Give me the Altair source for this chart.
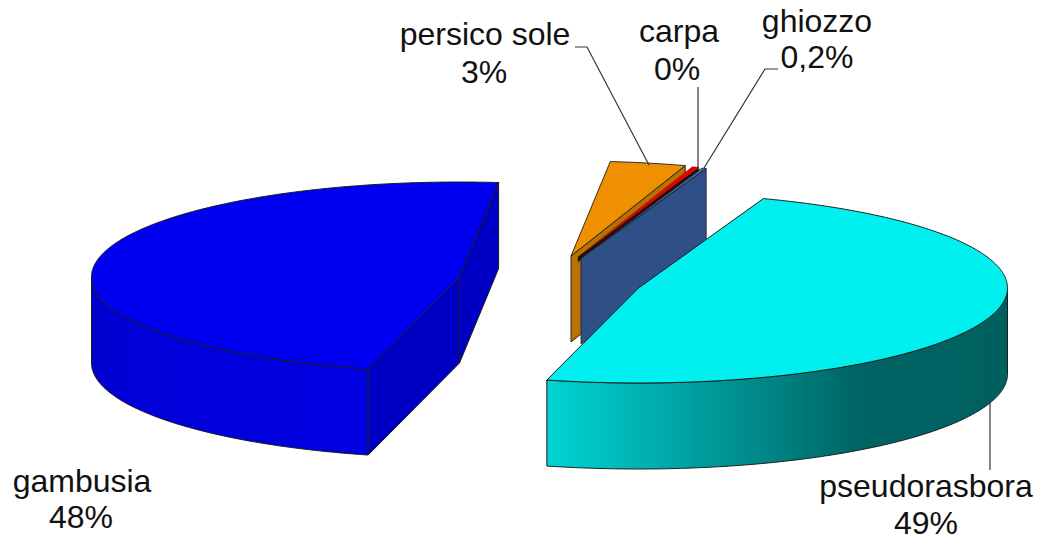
import math
import altair as alt

# Catch shares per species (percent), clockwise from the top of the pie
species = ["persico sole", "carpa", "ghiozzo", "pseudorasbora", "gambusia"]
shares = [3.3, 0.3, 0.2, 48.5, 47.7]

top_fill = ["#EE9000", "#E80000", "#3A63A5", "#00F0F0", "#0000F0"]
cut_fill = ["#B87000", "#2A0A0A", "#2E5087", "#00A0A0", "#0000C4"]

# Pie projection: ellipse radii, wall depth, first slice edge, per-slice hub
radii_x = [370.0, 370.0, 370.0, 369.0, 368.0]
RY, DEPTH = 95.0, 86.0
START_DEG = 83.9
hubs = [(571, 256), (578, 257), (581, 258), (638.5, 288), (459.5, 277)]

W, H = 1038, 540

# Sweep of every slice, walking clockwise from the start angle
angles = {}
cursor = START_DEG
for name, share in zip(species, shares):
    sweep = share * 3.6
    angles[name] = (cursor, cursor - sweep)
    cursor -= sweep


def rim(i, deg, drop=0.0):
    a = math.radians(deg)
    hub = hubs[i]
    return (hub[0] + radii_x[i] * math.cos(a), hub[1] - RY * math.sin(a) + drop)


def arc(i, a0, a1, drop=0.0):
    n = max(2, int(abs(a1 - a0) * 2))
    return [rim(i, a0 + (a1 - a0) * k / n, drop) for k in range(n + 1)]


def feature(points, color):
    ring = [list(p) for p in points] + [list(points[0])]
    return {
        "type": "Feature",
        "properties": {"color": color},
        "geometry": {"type": "Polygon", "coordinates": [ring]},
    }


def top_face(i):
    a0, a1 = angles[species[i]]
    return feature([hubs[i]] + arc(i, a0, a1), top_fill[i])


def cut_face(i, deg, depth=DEPTH):
    hub = hubs[i]
    return feature(
        [hub, rim(i, deg), rim(i, deg, depth), (hub[0], hub[1] + depth)],
        cut_fill[i],
    )


def outer_wall(i, a0, a1):
    return feature(arc(i, a0, a1) + arc(i, a1, a0, DEPTH), top_fill[i])


projection = alt.Projection(type="identity", scale=1, translate=[0, 0])
EDGE = "#1c1c1c"


def shapes(features, width=1.0):
    return (
        alt.Chart(alt.Data(values=features))
        .mark_geoshape(stroke=EDGE, strokeWidth=width)
        .encode(fill=alt.Fill("properties.color:N", scale=None))
        .project(**projection.to_dict())
    )


def gradient_wall(feat, stops):
    return (
        alt.Chart(alt.Data(values=[feat]))
        .mark_geoshape(
            stroke=EDGE,
            strokeWidth=1,
            fill=alt.Gradient(
                gradient="linear",
                x1=0, x2=1, y1=0, y2=0,
                stops=[alt.GradientStop(offset=o, color=c) for o, c in stops],
            ),
        )
        .project(**projection.to_dict())
    )


P, C, G, R, B = 0, 1, 2, 3, 4
a_p = angles[species[P]]
a_c = angles[species[C]]
a_g = angles[species[G]]
a_r = angles[species[R]]
a_b = angles[species[B]]

persico = shapes([cut_face(P, a_p[1]), top_face(P)], 0.9)
# Only a short lip of the carpa cut shows above the ghiozzo slice
carpa = shapes([cut_face(C, a_c[1], 5), top_face(C)], 0.3)
ghiozzo = shapes([cut_face(G, a_g[1]), top_face(G)], 0.8)

gambusia_wall = gradient_wall(
    outer_wall(B, 180, a_b[0] if a_b[0] > 180 else a_b[0] + 360),
    [(0, "#0000CC"), (0.15, "#0000D8"), (1, "#0000E2")],
)
gambusia = shapes([
    cut_face(B, a_b[1] + 360),
    cut_face(B, a_b[0]),
    top_face(B),
])

pseudo_wall = gradient_wall(
    outer_wall(R, a_r[1], 0),
    [(0, "#00D4D4"), (0.68, "#006464"), (1, "#006060")],
)
pseudo = shapes([top_face(R)])

# Label text and leader lines
label_text = ["persico sole", "3%", "carpa", "0%", "ghiozzo", "0,2%",
              "pseudorasbora", "49%", "gambusia", "48%"]
label_x = [485, 484, 679, 677, 817, 817, 926, 926, 82, 81]
label_y = [45, 83, 42, 80, 32, 68, 497, 534, 492, 528]
labels = alt.Chart(
    alt.Data(values=[{"t": t, "x": x, "y": y}
                     for t, x, y in zip(label_text, label_x, label_y)])
).mark_text(
    font="Liberation Sans", fontSize=32, color="#111111",
    align="center", baseline="alphabetic",
).encode(
    x=alt.X("x:Q", scale=alt.Scale(domain=[0, W], range=[0, W]), axis=None),
    y=alt.Y("y:Q", scale=alt.Scale(domain=[0, H], range=[0, H]), axis=None),
    text="t:N",
)

leader_id = [0, 0, 0, 1, 1, 2, 2, 2, 3, 3]
leader_x = [575, 587, 649, 698, 698, 778, 765, 704, 990, 990]
leader_y = [47, 47, 165, 87, 168, 69, 69, 168, 402, 470]
leaders = alt.Chart(
    alt.Data(values=[{"k": k, "i": i, "x": x, "y": y}
                     for i, (k, x, y) in enumerate(zip(leader_id, leader_x, leader_y))])
).mark_line(color="#333333", strokeWidth=1.2).encode(
    x=alt.X("x:Q", scale=alt.Scale(domain=[0, W], range=[0, W]), axis=None),
    y=alt.Y("y:Q", scale=alt.Scale(domain=[0, H], range=[0, H]), axis=None),
    detail="k:N",
    order="i:Q",
)

chart = alt.layer(
    persico, carpa, ghiozzo, gambusia_wall, gambusia, pseudo_wall, pseudo,
    leaders, labels,
).properties(
    width=W, height=H, padding=0, autosize=alt.AutoSizeParams(type="none"),
    background="white",
).configure_view(stroke=None)

chart.save("out.html", embed_options={"renderer": "svg", "actions": False})
